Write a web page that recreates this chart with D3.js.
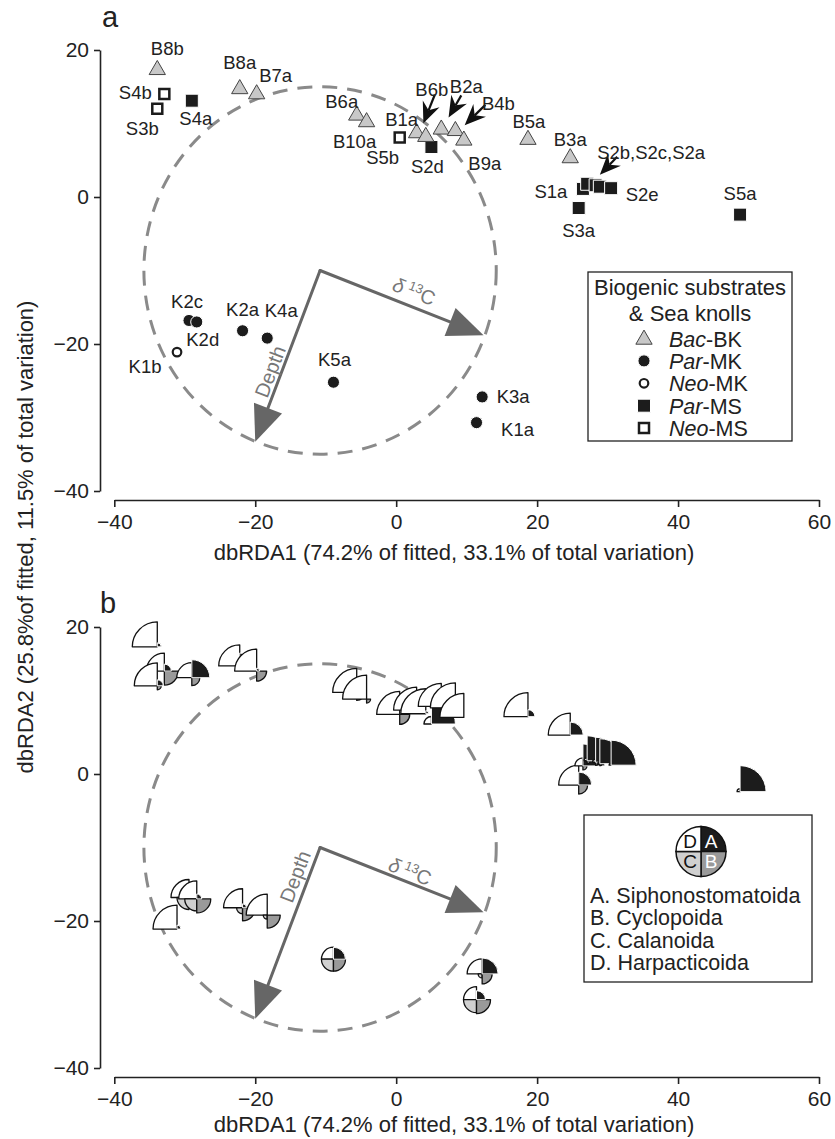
<!DOCTYPE html>
<html><head><meta charset="utf-8">
<script src="https://cdn.jsdelivr.net/npm/d3@7"></script>
<style>body{margin:0;background:#fff}</style>
</head><body>
<svg id="chart" width="835" height="1139"></svg>
<script>
// ---------------- DATA ----------------
const samples = ["B8b","S4b","S3b","S4a","B8a","B7a","B6a","B10a","S5b","S2d","B1a","B6b","B2a","B4b","B9a","B5a","B3a","S3a","S1a","S2b","S2c","S2a","S2e","S5a","K2c","K2d","K1b","K2a","K4a","K5a","K3a","K1a"];
const group = ["Bac-BK","Neo-MS","Neo-MS","Par-MS","Bac-BK","Bac-BK","Bac-BK","Bac-BK","Neo-MS","Par-MS","Bac-BK","Bac-BK","Bac-BK","Bac-BK","Bac-BK","Bac-BK","Bac-BK","Par-MS","Par-MS","Par-MS","Par-MS","Par-MS","Par-MS","Par-MS","Par-MK","Par-MK","Neo-MK","Par-MK","Par-MK","Par-MK","Par-MK","Par-MK"];
const dbRDA1 = [-33.9,-32.9,-33.9,-29.0,-22.2,-19.8,-5.6,-4.2,0.5,5.0,2.9,4.2,6.4,8.4,9.6,18.7,24.7,25.9,26.5,27.1,28.3,28.9,30.5,48.8,-29.4,-28.3,-31.1,-21.8,-18.3,-8.9,12.2,11.4];
const dbRDA2 = [17.3,14.0,12.0,13.1,14.7,14.0,11.1,10.2,8.1,6.8,8.7,8.2,9.2,9.0,7.7,7.8,5.3,-1.5,1.1,1.8,1.6,1.4,1.2,-2.4,-16.8,-17.0,-21.1,-18.2,-19.2,-25.2,-27.2,-30.7];
// relative abundance (glyph quadrant radius, 0..1) of the four copepod orders
const siphonostomatoida = [0.16,0.28,0.24,0.72,0.52,0.12,0,0,0,0.96,0,0.12,0,0,0,0.28,0.52,0.52,0.88,1.0,1.0,1.0,1.0,1.04,0.16,0.2,0.16,0.16,0,0.48,0.64,0.36];
const cyclopoida        = [0,0.56,0.16,0.32,0,0.4,0.32,0.16,0.4,0,0,0,0,0,0,0,0,0.36,0.16,0.12,0.12,0.08,0,0,0.32,0.56,0,0.52,0.52,0.48,0.4,0.56];
const calanoida         = [0,0,0,0,0,0,0,0,0,0,0,0,0,0,0,0,0,0,0,0,0,0,0,0,0.48,0.48,0,0.24,0.16,0.48,0.16,0.52];
const harpacticoida     = [1.0,0.72,0.92,0.6,0.84,0.88,0.96,0.96,0.92,0.3,0.92,1.0,0.92,1.0,0.96,0.96,0.88,0.8,0.32,0.12,0.12,0.08,0.08,0.12,0.72,0.72,0.96,0.76,0.84,0.48,0.6,0.52];
// environmental vectors
const vecOrigin = [-10.8,-10];
const vecNames = ["Depth","δ13C"];
const vecTips = [[-20.0,-33.3],[12.4,-18.8]];
const circleRadius = 25;
const xTicks = [-40,-20,0,20,40,60];
const yTicks = [-40,-20,0,20];
const legendGroups = ["Bac-BK","Par-MK","Neo-MK","Par-MS","Neo-MS"];
const orderNames = ["A. Siphonostomatoida","B. Cyclopoida","C. Calanoida","D. Harpacticoida"];

// ---------------- LAYOUT ----------------
const FONT = "'Liberation Sans', Arial, Helvetica, sans-serif";
const labelOff = {B8b:[10,-21],S4b:[-29,-2],S3b:[-15,20],S4a:[4,18],B8a:[0,-26],B7a:[19,-19],B6a:[-15,-14],B10a:[-12,19],
  S5b:[-17,20],S2d:[-4,20],B1a:[-15,-14],B6b:[6,-47],B2a:[25,-43],B4b:[43,-27],B9a:[21,23],B5a:[1,-18],B3a:[0,-19],
  S3a:[0,22],S1a:[-32,3],S2b:[64,-31],S2e:[31,6],S5a:[0,-21],K2c:[-2,-19],K2d:[6,18],K1b:[-32,14],K2a:[0,-21],
  K4a:[14,-28],K5a:[1,-23],K3a:[31,0],K1a:[41,7]};
const labelText = {S2b:"S2b,S2c,S2a"};
const pointers = [{at:"B6b",tail:[9,-42],tip:[-2.4,-13.4]},{at:"B2a",tail:[20,-34],tip:[7.3,-12]},
  {at:"B4b",tail:[30,-26],tip:[9.3,-5.7]},{at:"S2b",tail:[30,-27],tip:[12.7,-9]}];

const svg = d3.select("#chart");
const x = d3.scaleLinear().domain([-40,60]).range([114.3,819]);
const yA = d3.scaleLinear().domain([-40,20]).range([491,50]);
const yB = d3.scaleLinear().domain([-40,20]).range([1068,627]);
const rScale = d3.scaleLinear().domain([0,1]).range([0,25]);

function drawAxes(y, axisY, titleY){
  const gy = svg.append("g").attr("transform","translate(100,0)")
    .call(d3.axisLeft(y).tickValues(yTicks).tickSize(6).tickSizeOuter(0).tickPadding(5));
  const gx = svg.append("g").attr("transform",`translate(0,${axisY})`)
    .call(d3.axisBottom(x).tickValues(xTicks).tickSize(7).tickSizeOuter(0).tickPadding(7));
  [gy,gx].forEach(g=>{
    g.attr("font-size",21).attr("font-family",FONT);
    g.selectAll("path,line").attr("stroke","#222").attr("stroke-width",1.6);
    g.selectAll("text").attr("fill","#222");
  });
  svg.append("text").attr("x",454).attr("y",titleY).attr("text-anchor","middle")
    .attr("font-family",FONT).attr("font-size",22).attr("fill","#222")
    .text("dbRDA1 (74.2% of fitted, 33.1% of total variation)");
}

function drawVectors(y, depthPos, d13Pos){
  const g = svg.append("g");
  const cx = x(vecOrigin[0]), cy = y(vecOrigin[1]);
  g.append("ellipse").attr("cx",cx).attr("cy",cy)
    .attr("rx",x(vecOrigin[0]+circleRadius)-cx).attr("ry",cy-y(vecOrigin[1]+circleRadius))
    .attr("fill","none").attr("stroke","#8a8a8a").attr("stroke-width",3).attr("stroke-dasharray","15,10");
  vecTips.forEach(t=>{
    const tx=x(t[0]), ty=y(t[1]);
    const dx=tx-cx, dy=ty-cy, L=Math.hypot(dx,dy), ux=dx/L, uy=dy/L, nx=-uy, ny=ux;
    const hl=36, hw=15;
    g.append("line").attr("x1",cx).attr("y1",cy).attr("x2",tx-ux*(hl-4)).attr("y2",ty-uy*(hl-4))
      .attr("stroke","#666").attr("stroke-width",3).attr("stroke-linecap","round");
    g.append("path").attr("d",`M${tx},${ty}L${tx-ux*hl+nx*hw},${ty-uy*hl+ny*hw}L${tx-ux*hl-nx*hw},${ty-uy*hl-ny*hw}Z`)
      .attr("fill","#666");
  });
  const a1 = Math.atan2(y(vecTips[0][1])-cy, x(vecTips[0][0])-cx)*180/Math.PI - 180;
  const a2 = Math.atan2(y(vecTips[1][1])-cy, x(vecTips[1][0])-cx)*180/Math.PI;
  g.append("text").attr("transform",`translate(${cx+depthPos[0]},${cy+depthPos[1]}) rotate(${a1})`)
    .attr("text-anchor","middle").attr("dy","0.35em").attr("font-family",FONT).attr("font-size",20)
    .attr("fill","#777").text(vecNames[0]);
  const t2 = g.append("text").attr("transform",`translate(${cx+d13Pos[0]},${cy+d13Pos[1]}) rotate(${a2})`)
    .attr("text-anchor","middle").attr("dy","0.35em").attr("font-family",FONT).attr("font-size",20).attr("fill","#777");
  t2.append("tspan").attr("font-style","italic").text("δ");
  t2.append("tspan").attr("font-size",13).attr("dx",4).attr("dy",-7).text("13");
  t2.append("tspan").attr("dy",7).text("C");
}

const typeStyle = {
  "Bac-BK":{sym:d3.symbolTriangle,size:115,fill:"#c8c8c8",stroke:"#444",sw:1},
  "Par-MK":{sym:d3.symbolCircle,size:115,fill:"#1c1c1c",stroke:"#fff",sw:1},
  "Neo-MK":{sym:d3.symbolCircle,size:58,fill:"#fff",stroke:"#1c1c1c",sw:2.2},
  "Par-MS":{sym:d3.symbolSquare,size:169,fill:"#1c1c1c",stroke:"#fff",sw:1},
  "Neo-MS":{sym:d3.symbolSquare,size:100,fill:"#fff",stroke:"#1c1c1c",sw:2.5}
};
function sym(g, type, px, py){
  const s = typeStyle[type];
  g.append("path").attr("d",d3.symbol().type(s.sym).size(s.size)()).attr("transform",`translate(${px},${py})`)
    .attr("fill",s.fill).attr("stroke",s.stroke).attr("stroke-width",s.sw);
}

// ---------------- PANEL A ----------------
drawAxes(yA, 500, 559.5);
svg.append("text").attr("x",102).attr("y",26.5).attr("font-family",FONT).attr("font-size",29).attr("fill","#222").text("a");
svg.append("text").attr("transform","translate(33,537) rotate(-90)").attr("text-anchor","middle")
  .attr("font-family",FONT).attr("font-size",22).attr("fill","#222")
  .text("dbRDA2 (25.8%of fitted, 11.5% of total variation)");
drawVectors(yA,[-50,101],[94,21]);

const gA = svg.append("g");
samples.forEach((s,i)=> sym(gA, group[i], x(dbRDA1[i]), yA(dbRDA2[i])));
const idx = n => samples.indexOf(n);
pointers.forEach(p=>{
  const i = idx(p.at), px=x(dbRDA1[i]), py=yA(dbRDA2[i]);
  const x1=px+p.tail[0], y1=py+p.tail[1], x2=px+p.tip[0], y2=py+p.tip[1];
  const dx=x2-x1, dy=y2-y1, L=Math.hypot(dx,dy), ux=dx/L, uy=dy/L, nx=-uy, ny=ux;
  const hl=21, hw=9, nt=14;
  gA.append("line").attr("x1",x1).attr("y1",y1).attr("x2",x2-ux*nt).attr("y2",y2-uy*nt).attr("stroke","#111").attr("stroke-width",2.2);
  gA.append("path").attr("d",`M${x2},${y2}L${x2-ux*hl+nx*hw},${y2-uy*hl+ny*hw}L${x2-ux*nt},${y2-uy*nt}L${x2-ux*hl-nx*hw},${y2-uy*hl-ny*hw}Z`)
    .attr("fill","#111");
});
samples.forEach((s,i)=>{
  const o = labelOff[s]; if(!o) return;
  gA.append("text").attr("x",x(dbRDA1[i])+o[0]).attr("y",yA(dbRDA2[i])+o[1]).attr("dy","0.35em")
    .attr("text-anchor","middle").attr("font-family",FONT).attr("font-size",18.5).attr("fill","#222")
    .text(labelText[s]||s);
});
// legend a
const lgA = svg.append("g").attr("font-family",FONT).attr("font-size",21.5).attr("fill","#222");
lgA.append("rect").attr("x",588).attr("y",272).attr("width",204).attr("height",169).attr("fill","#fff").attr("stroke","#222").attr("stroke-width",1.3);
lgA.append("text").attr("x",690).attr("y",294.5).attr("text-anchor","middle").attr("font-size",22).text("Biogenic substrates");
lgA.append("text").attr("x",690).attr("y",320.5).attr("text-anchor","middle").attr("font-size",22).text("& Sea knolls");
legendGroups.forEach((gname,k)=>{
  const cy = 338.5 + k*22.4;
  sym(lgA, gname, 644, cy + (gname==="Bac-BK"?1:0));
  const parts = gname.split("-");
  const t = lgA.append("text").attr("x",669).attr("y",cy+8);
  t.append("tspan").attr("font-style","italic").text(parts[0]);
  t.append("tspan").text("-"+parts[1]);
});

// ---------------- PANEL B ----------------
drawAxes(yB, 1077, 1132);
svg.append("text").attr("x",100).attr("y",613).attr("font-family",FONT).attr("font-size",29).attr("fill","#222").text("b");
drawVectors(yB,[-25,29],[90,24]);

const quadFill = ["#1c1c1c","#9a9a9a","#d0d0d0","#ffffff"];
const quadAng = [[0,Math.PI/2],[Math.PI/2,Math.PI],[Math.PI,1.5*Math.PI],[1.5*Math.PI,2*Math.PI]];
const arcGen = d3.arc().innerRadius(0);
function glyph(g, px, py, vals, lineW){
  const gg = g.append("g").attr("transform",`translate(${px},${py})`);
  [3,2,1,0].forEach(q=>{
    const r = rScale(vals[q]); if(r<=0) return;
    gg.append("path").attr("d",arcGen({outerRadius:r,startAngle:quadAng[q][0],endAngle:quadAng[q][1]}))
      .attr("fill",quadFill[q]).attr("stroke",q===0?"#fff":"#111").attr("stroke-width",q===0?1:lineW)
      .attr("stroke-linejoin","round");
  });
  return gg;
}
const gB = svg.append("g");
samples.forEach((s,i)=>{
  glyph(gB, x(dbRDA1[i]), yB(dbRDA2[i]), [siphonostomatoida[i],cyclopoida[i],calanoida[i],harpacticoida[i]], 1.3);
});
// legend b
const lgB = svg.append("g").attr("font-family",FONT).attr("font-size",21.5).attr("fill","#222");
lgB.append("rect").attr("x",584).attr("y",815).attr("width",228).attr("height",167).attr("fill","#fff").attr("stroke","#222").attr("stroke-width",1.3);
const pie = lgB.append("g").attr("transform","translate(701,851.5)");
quadAng.forEach((a,q)=>{
  pie.append("path").attr("d",arcGen({outerRadius:25,startAngle:a[0],endAngle:a[1]}))
    .attr("fill",quadFill[q]).attr("stroke","#111").attr("stroke-width",1.5);
});
const letterPos = [[10,-10],[10,10],[-11,10],[-11,-10]];
["A","B","C","D"].forEach((L,q)=>{
  pie.append("text").attr("x",letterPos[q][0]).attr("y",letterPos[q][1]).attr("dy","0.36em")
    .attr("text-anchor","middle").attr("font-size",19).attr("fill",q<2?"#fff":"#111").text(L);
});
orderNames.forEach((n,k)=>{
  lgB.append("text").attr("x",590).attr("y",903+k*22.4).text(n);
});
</script>
</body></html>
